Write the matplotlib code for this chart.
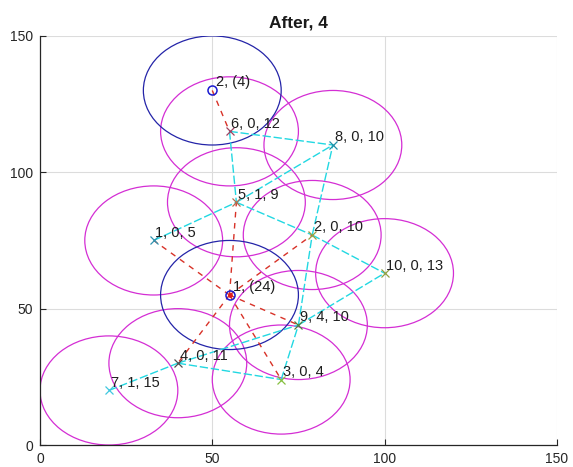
import matplotlib
matplotlib.use("Agg")
import matplotlib.pyplot as plt
from matplotlib.patches import Circle

plt.rcParams['font.family'] = ['Liberation Sans', 'DejaVu Sans']

# Sinks
sink_x = [55, 50]
sink_y = [55, 130]
sink_labels = ["1, (24)", "2, (4)"]

# Sensors
sensor_ids = [1, 2, 3, 4, 5, 6, 7, 8, 9, 10]
sensor_x = [33, 79, 70, 40, 57, 55, 20, 85, 75, 100]
sensor_y = [75, 77, 24, 30, 89, 115, 20, 110, 44, 63]
sensor_a = [0, 0, 0, 0, 1, 0, 1, 0, 4, 0]
sensor_b = [5, 10, 4, 11, 9, 12, 15, 10, 10, 13]
sensor_sink = [1, 1, 1, 1, 1, 2, 0, 0, 1, 0]   # 0 = no direct sink link
radius = 20

# sensor-to-sensor links (cyan)
links = [(7, 4), (4, 3), (4, 9), (3, 9), (9, 2), (9, 10), (2, 8),
         (5, 2), (2, 10), (1, 5), (5, 8), (6, 8), (6, 5)]

marker_colors = ['#2f93b0', '#9aa040', '#86c040', '#505050', '#b07050',
                 '#a04060', '#40c8e0', '#2090a8', '#508040', '#90a040']

fig = plt.figure(figsize=(5.73, 4.67), dpi=100)
ax = fig.add_axes([0.0698, 0.0471, 0.902, 0.876])

ax.set_xlim(0, 150)
ax.set_ylim(0, 150)

# coverage circles
for x, y in zip(sensor_x, sensor_y):
    ax.add_patch(Circle((x, y), radius, fill=False, edgecolor='#d42ed4', lw=0.9, zorder=2))
for x, y in zip(sink_x, sink_y):
    ax.add_patch(Circle((x, y), radius, fill=False, edgecolor='#2424a8', lw=0.9, zorder=2))

# cyan links
idx = {sid: i for i, sid in enumerate(sensor_ids)}
for a, b in links:
    i, j = idx[a], idx[b]
    ax.plot([sensor_x[i], sensor_x[j]], [sensor_y[i], sensor_y[j]],
            color='#22d8e2', lw=1.0, dashes=(6, 2), zorder=3)

# red links to sinks
for i, s in enumerate(sensor_sink):
    if s > 0:
        ax.plot([sink_x[s - 1], sensor_x[i]], [sink_y[s - 1], sensor_y[i]],
                color='#d83228', lw=1.0, dashes=(4, 4), zorder=4)

# sensor markers and labels
for i, sid in enumerate(sensor_ids):
    ax.plot(sensor_x[i], sensor_y[i], 'x', color=marker_colors[i], ms=6, mew=0.9, zorder=5)
    ax.text(sensor_x[i] + 0.5, sensor_y[i] + 1.3,
            f"{sid}, {sensor_a[i]}, {sensor_b[i]}",
            fontsize=10.5, color='#1e1e1e', va='baseline', ha='left', zorder=6)

# sink markers and labels
for k in range(len(sink_x)):
    ax.plot(sink_x[k], sink_y[k], 'o', mfc='none', mec='#1a1ad0', ms=6.5, mew=1.1, zorder=6)
    if k == 0:
        ax.plot(sink_x[k], sink_y[k], '.', color='#e02020', ms=5, zorder=7)
    ax.text(sink_x[k] + 1, sink_y[k] + 1.5, sink_labels[k],
            fontsize=10.5, color='#1e1e1e', va='baseline', ha='left', zorder=6)

ax.set_xticks([0, 50, 100, 150])
ax.set_yticks([0, 50, 100, 150])
ax.grid(True, color='#dcdcdc', lw=0.8)
ax.set_axisbelow(True)
for s in ['top', 'right']:
    ax.spines[s].set_visible(False)
for s in ['left', 'bottom']:
    ax.spines[s].set_color('#262626')
    ax.spines[s].set_linewidth(0.9)
ax.tick_params(direction='in', length=4, width=0.8, colors='#262626', labelsize=10)
ax.tick_params(axis='x', pad=5)
ax.tick_params(axis='y', pad=5)
ax.set_title("After, 4", fontsize=12.5, fontweight='bold', color='#1a1a1a', pad=6)

fig.savefig("out.png", dpi=100)
